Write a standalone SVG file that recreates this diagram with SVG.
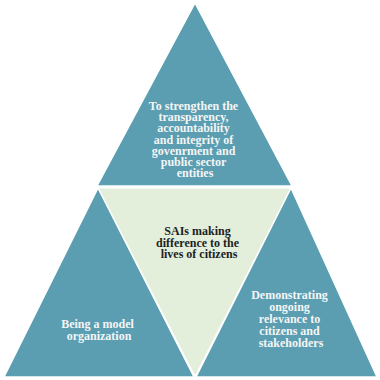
<svg xmlns="http://www.w3.org/2000/svg" width="380" height="380" viewBox="0 0 380 380">
  <style>
    .tri { fill: #5b9db1; stroke: #ffffff; stroke-width: 1.5; stroke-linejoin: miter; }
    .core { fill: #e3eedb; stroke: #ffffff; stroke-width: 1; }
    .lbl { font-family: "Liberation Serif", "DejaVu Serif", serif; font-weight: bold; font-size: 12px; text-anchor: middle; }
    .light { fill: #f4f6f6; }
    .dark { fill: #1e1e1e; }
  </style>
  <rect width="380" height="380" fill="#ffffff"/>

  <!-- central inverted triangle -->
  <g id="core">
    <polygon class="core" points="98,188 291,188 195,376"/>
    <text class="lbl dark" x="199" y="235">
      <tspan x="199">SAIs making</tspan>
      <tspan x="199" dy="11.5">difference to the</tspan>
      <tspan x="199" dy="11.5">lives of citizens</tspan>
    </text>
  </g>

  <!-- upper triangle -->
  <g id="top">
    <polygon class="tri" points="195,3 292,186 97,186"/>
    <text class="lbl light" x="195" y="110">
      <tspan x="195">To strengthen the</tspan>
      <tspan x="195" dy="11.2">transparency,</tspan>
      <tspan x="195" dy="11.2">accountability</tspan>
      <tspan x="195" dy="11.2">and integrity of</tspan>
      <tspan x="195" dy="11.2">govenrment and</tspan>
      <tspan x="195" dy="11.2">public sector</tspan>
      <tspan x="195" dy="11.2">entities</tspan>
    </text>
  </g>

  <!-- lower left triangle -->
  <g id="left">
    <polygon class="tri" points="98,188 194,377 4,377"/>
    <text class="lbl light" x="99" y="328">
      <tspan x="99">Being a  model</tspan>
      <tspan x="99" dy="11.5">organization</tspan>
    </text>
  </g>

  <!-- lower right triangle -->
  <g id="right">
    <polygon class="tri" points="291,188 377,377 196,377"/>
    <text class="lbl light" x="291" y="299">
      <tspan x="291">Demonstrating</tspan>
      <tspan x="291" dy="12">ongoing</tspan>
      <tspan x="291" dy="12">relevance to</tspan>
      <tspan x="291" dy="12">citizens and</tspan>
      <tspan x="291" dy="12">stakeholders</tspan>
    </text>
  </g>
</svg>
